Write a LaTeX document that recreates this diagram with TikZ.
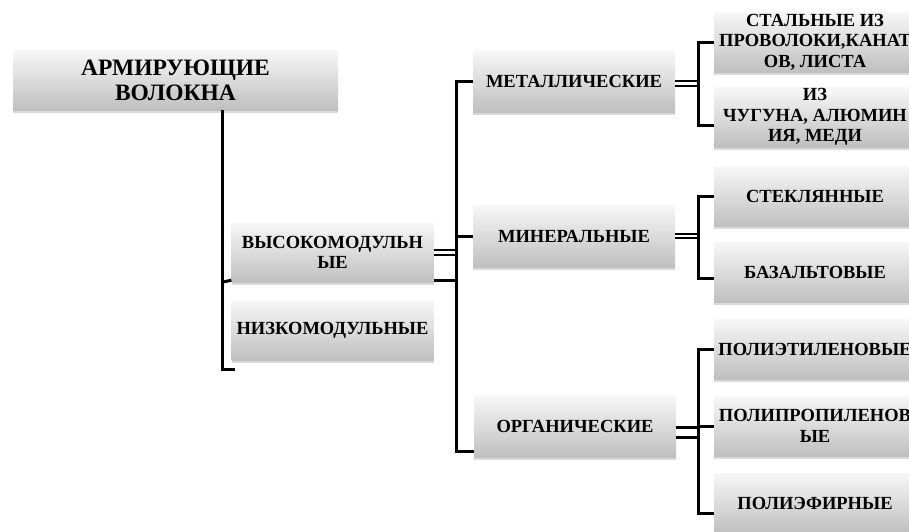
\documentclass[tikz,border=0pt]{standalone}
\usepackage{fontspec}
\setmainfont{Liberation Serif}[BoldFont={Liberation Serif Bold}]
\usetikzlibrary{shadows}

\begin{document}
\begin{tikzpicture}[x=1pt, y=-1pt,
    blocco/.style={rectangle, top color=black!3, bottom color=black!25, align=center, text=black, font=\fontsize{18.5}{20.5}\selectfont\bfseries, minimum width=202pt, minimum height=60pt, inner sep=0pt, drop shadow={shadow xshift=0pt, shadow yshift=-3pt, opacity=0.3}},
    linea/.style={line width=3pt},
    doppia/.style={line width=2.2pt, double, double distance=2.2pt}]
    \useasboundingbox (0,0) rectangle (909,531);
    \clip (0,0) rectangle (909,531);
    % Radice
    \node[blocco, minimum width=325pt, font=\fontsize{23.5}{25}\selectfont\bfseries] (radice) at (175.5,80) {АРМИРУЮЩИЕ\\ВОЛОКНА};
    % Primo livello
    \node[blocco, minimum height=59pt] (alto) at (332.5,252.5) {ВЫСОКОМОДУЛЬН\\ЫЕ};
    \node[blocco] (basso) at (332.5,330) {НИЗКОМОДУЛЬНЫЕ};
    % Secondo livello
    \node[blocco, minimum height=62pt] (metal) at (574,81) {МЕТАЛЛИЧЕСКИЕ};
    \node[blocco, minimum height=62pt] (miner) at (574,236) {МИНЕРАЛЬНЫЕ};
    \node[blocco, minimum height=62pt] (organ) at (575,426) {ОРГАНИЧЕСКИЕ};
    % Foglie
    \node[blocco] (acciaio) at (815,42) {СТАЛЬНЫЕ ИЗ\\ПРОВОЛОКИ,КАНАТ\\ОВ, ЛИСТА};
    \node[blocco] (ghisa) at (815,117) {ИЗ\\ЧУГУНА, АЛЮМИН\\ИЯ, МЕДИ};
    \node[blocco] (vetro) at (815,196) {СТЕКЛЯННЫЕ};
    \node[blocco] (basalto) at (815,272) {БАЗАЛЬТОВЫЕ};
    \node[blocco] (polietil) at (815,349) {ПОЛИЭТИЛЕНОВЫЕ};
    \node[blocco] (poliprop) at (815,426) {ПОЛИПРОПИЛЕНОВ\\ЫЕ};
    \node[blocco] (poliest) at (815,503) {ПОЛИЭФИРНЫЕ};
    % Collegamenti dalla radice
    \coordinate (busR) at (222,0);
    \coordinate (fineR) at (235,369);
    \draw[linea] (busR |- radice.south) |- (fineR);
    \draw[linea] (busR |- alto.south) -- ([yshift=2pt]alto.south west);
    % Collegamenti al secondo livello
    \coordinate (busM) at (456,0);
    \path ([yshift=2pt]alto.south east) coordinate (altoBasso);
    \draw[doppia] (alto.east) -- (busM |- alto.east);
    \draw[linea] (altoBasso) -- (busM |- altoBasso);
    \draw[linea] (metal.west) -- (busM |- metal.west) |- ([yshift=6pt]organ.south west);
    \draw[linea] (busM |- miner.west) -- (miner.west);
    % Collegamenti alle foglie
    \coordinate (busF) at (698,0);
    \path ([yshift=-2.5pt]metal.east) coordinate (metalDx);
    \draw[doppia] (metalDx) -- (busF |- metalDx);
    \draw[linea] (acciaio.west) -- (busF |- acciaio.west) |- ([yshift=-8pt]ghisa.west);
    \draw[doppia] (miner.east) -- (busF |- miner.east);
    \draw[linea] (vetro.west) -- (busF |- vetro.west) |- ([yshift=-6pt]basalto.west);
    \path ([yshift=-1pt]organ.east) coordinate (organSu);
    \path ([yshift=-11pt]organ.east) coordinate (organGiu);
    \draw[linea] (organSu) -- (busF |- organSu);
    \draw[linea] (organGiu) -- (busF |- organGiu);
    \draw[linea] (polietil.west) -- (busF |- polietil.west) |- ([yshift=-10pt]poliest.west);
    \draw[linea] (busF |- poliprop.west) -- (poliprop.west);
\end{tikzpicture}
\end{document}
